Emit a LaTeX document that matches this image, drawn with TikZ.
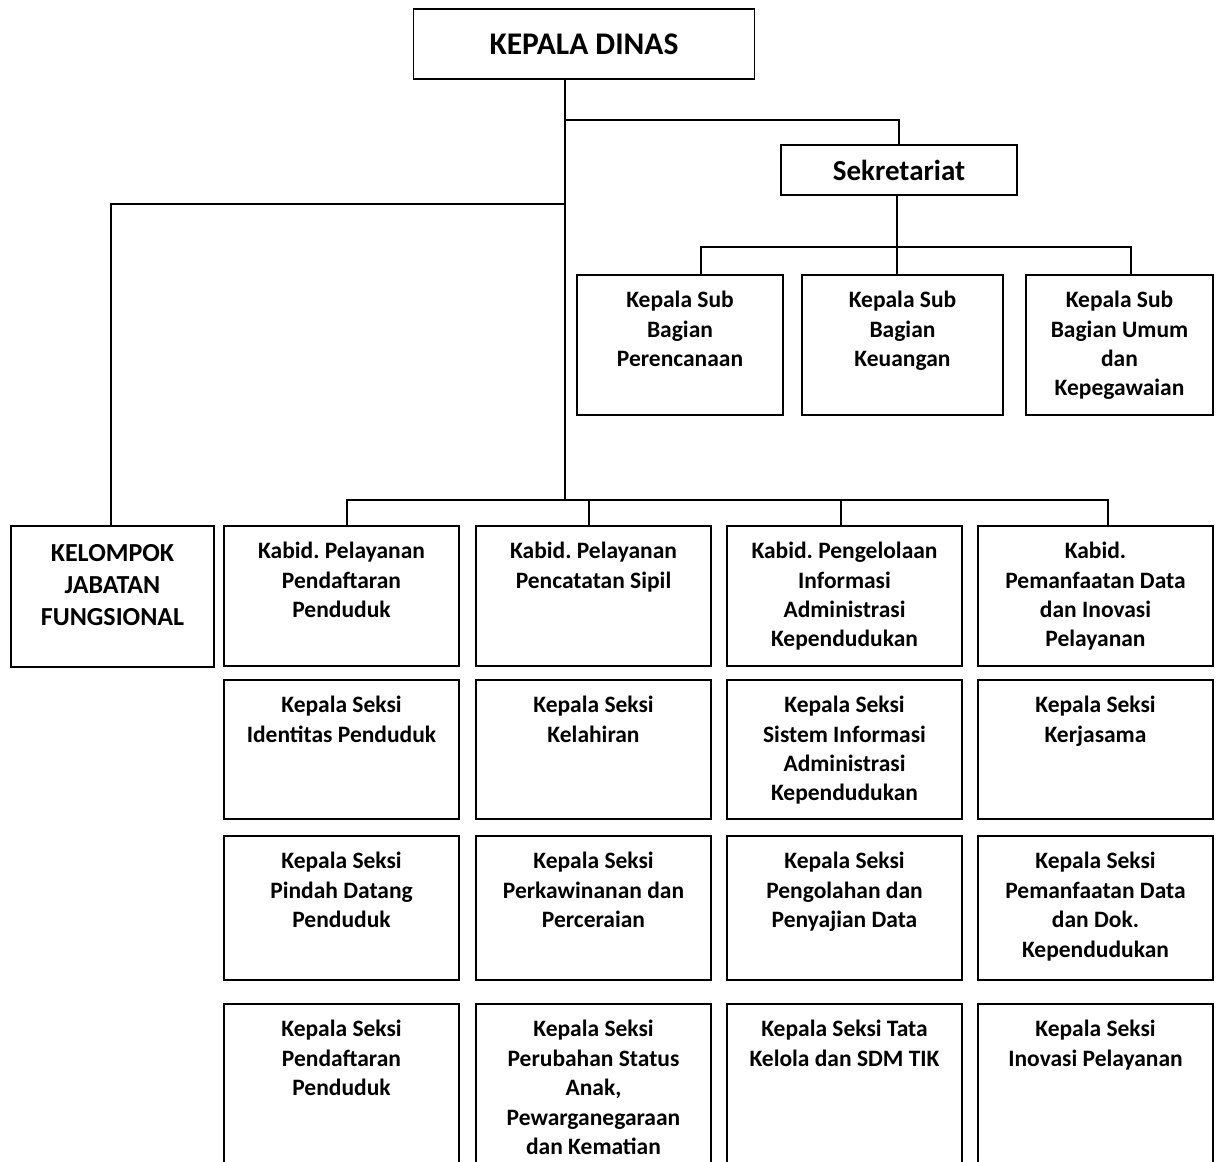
\documentclass[tikz,border=0pt]{standalone}
\usepackage{fontspec}
\setmainfont{Carlito}
\usepackage{tikz}
\frenchspacing

\tikzset{
  kotak/.style={draw, line width=1.8pt, inner sep=0pt},
  garis/.style={line width=1.8pt},
  teks/.style={font=\bfseries\fontsize{23.5}{29.4}\selectfont, align=center, inner sep=0pt, anchor=north},
  judul/.style={font=\bfseries\fontsize{29}{34}\selectfont, inner sep=0pt},
  kolom/.style={kotak, minimum width=235pt},
}

\begin{document}
\begin{tikzpicture}[x=1pt, y=-1pt]
\useasboundingbox (0,0) rectangle (1216,1162);
\clip (0,0) rectangle (1216,1162);

% pimpinan dan sekretariat
\node[kotak, minimum width=341pt, minimum height=70pt] (kadis) at (584,44) {};
\node[judul, font=\bfseries\fontsize{31.5}{36}\selectfont] (kadis-t) at (kadis.center) {KEPALA DINAS};
\node[kotak, minimum width=236pt, minimum height=50pt] (sekre) at (899,170) {};
\node[judul] (sekre-t) at (sekre.center) {Sekretariat};

\node[kotak, minimum width=206pt, minimum height=140pt] (sb1) at (680,345) {};
\node[kotak, minimum width=201pt, minimum height=140pt] (sb2) at (902.5,345) {};
\node[kotak, minimum width=187pt, minimum height=140pt] (sb3) at (1119.5,345) {};
\node[teks] (sb1-t) at ([yshift=-17pt]sb1.north) {Kepala Sub\\Bagian\\Perencanaan};
\node[teks] (sb2-t) at ([yshift=-17pt]sb2.north) {Kepala Sub\\Bagian\\Keuangan};
\node[teks] (sb3-t) at ([yshift=-17pt]sb3.north) {Kepala Sub\\Bagian Umum\\dan\\Kepegawaian};

% kelompok jabatan fungsional
\node[kotak, minimum width=203pt, minimum height=141pt] (kjf) at (112.5,596.5) {};
\node[teks, font=\bfseries\fontsize{26}{32}\selectfont] (kjf-t) at ([yshift=-19.5pt]kjf.north) {KELOMPOK\\JABATAN\\FUNGSIONAL};

% bidang
\node[kolom, minimum height=140pt] (kb1) at (341.5,596) {};
\node[kolom, minimum height=140pt] (kb2) at (593.5,596) {};
\node[kolom, minimum height=140pt] (kb3) at (844.5,596) {};
\node[kolom, minimum height=140pt] (kb4) at (1095.5,596) {};
\node[teks] (kb1-t) at ([yshift=-17pt]kb1.north) {Kabid. Pelayanan\\Pendaftaran\\Penduduk};
\node[teks] (kb2-t) at ([yshift=-17pt]kb2.north) {Kabid. Pelayanan\\Pencatatan Sipil};
\node[teks] (kb3-t) at ([yshift=-17pt]kb3.north) {Kabid. Pengelolaan\\Informasi\\Administrasi\\Kependudukan};
\node[teks] (kb4-t) at ([yshift=-17pt]kb4.north) {Kabid.\\Pemanfaatan Data\\dan Inovasi\\Pelayanan};

% seksi baris 2
\node[kolom, minimum height=139pt] (s21) at (341.5,749.5) {};
\node[kolom, minimum height=139pt] (s22) at (593.5,749.5) {};
\node[kolom, minimum height=139pt] (s23) at (844.5,749.5) {};
\node[kolom, minimum height=139pt] (s24) at (1095.5,749.5) {};
\node[teks] (s21-t) at ([yshift=-17pt]s21.north) {Kepala Seksi\\Identitas Penduduk};
\node[teks] (s22-t) at ([yshift=-17pt]s22.north) {Kepala Seksi\\Kelahiran};
\node[teks] (s23-t) at ([yshift=-17pt]s23.north) {Kepala Seksi\\Sistem Informasi\\Administrasi\\Kependudukan};
\node[teks] (s24-t) at ([yshift=-17pt]s24.north) {Kepala Seksi\\Kerjasama};

% seksi baris 3
\node[kolom, minimum height=144pt] (s31) at (341.5,908) {};
\node[kolom, minimum height=144pt] (s32) at (593.5,908) {};
\node[kolom, minimum height=144pt] (s33) at (844.5,908) {};
\node[kolom, minimum height=144pt] (s34) at (1095.5,908) {};
\node[teks] (s31-t) at ([yshift=-17pt]s31.north) {Kepala Seksi\\Pindah Datang\\Penduduk};
\node[teks] (s32-t) at ([yshift=-17pt]s32.north) {Kepala Seksi\\Perkawinanan dan\\Perceraian};
\node[teks] (s33-t) at ([yshift=-17pt]s33.north) {Kepala Seksi\\Pengolahan dan\\Penyajian Data};
\node[teks] (s34-t) at ([yshift=-17pt]s34.north) {Kepala Seksi\\Pemanfaatan Data\\dan Dok.\\Kependudukan};

% seksi baris 4 (terpotong di bawah)
\node[kolom, minimum height=196pt] (s41) at (341.5,1102) {};
\node[kolom, minimum height=196pt] (s42) at (593.5,1102) {};
\node[kolom, minimum height=196pt] (s43) at (844.5,1102) {};
\node[kolom, minimum height=196pt] (s44) at (1095.5,1102) {};
\node[teks] (s41-t) at ([yshift=-17pt]s41.north) {Kepala Seksi\\Pendaftaran\\Penduduk};
\node[teks] (s42-t) at ([yshift=-17pt]s42.north) {Kepala Seksi\\Perubahan Status\\Anak,\\Pewarganegaraan\\dan Kematian};
\node[teks] (s43-t) at ([yshift=-17pt]s43.north) {Kepala Seksi Tata\\Kelola dan SDM TIK};
\node[teks] (s44-t) at ([yshift=-17pt]s44.north) {Kepala Seksi\\Inovasi Pelayanan};

% garis
\coordinate (batang) at (565,500);
\coordinate (cab1) at (565,120);
\coordinate (cab2) at (565,204);
\coordinate (fj) at (111,204);
\coordinate (sj) at (897,247);
\coordinate (sj1) at (701,247);
\coordinate (sj3) at (1131,247);
\coordinate (bj1) at (347,500);
\coordinate (bj2) at (589,500);
\coordinate (bj3) at (841,500);
\coordinate (bj4) at (1108,500);

\draw[garis] (kadis.south -| batang) -- (batang);
\draw[garis] (cab1) -| (sekre.north);
\draw[garis] (cab2) -- (fj) -- (kjf.north -| fj);
\draw[garis] (sekre.south -| sj) -- (sj) -- (sb2.north -| sj);
\draw[garis] (sb1.north -| sj1) -- (sj1) -- (sj3) -- (sb3.north -| sj3);
\draw[garis] (kb1.north -| bj1) -- (bj1) -- (bj4) -- (kb4.north -| bj4);
\draw[garis] (bj2) -- (kb2.north -| bj2);
\draw[garis] (bj3) -- (kb3.north -| bj3);
\end{tikzpicture}
\end{document}
